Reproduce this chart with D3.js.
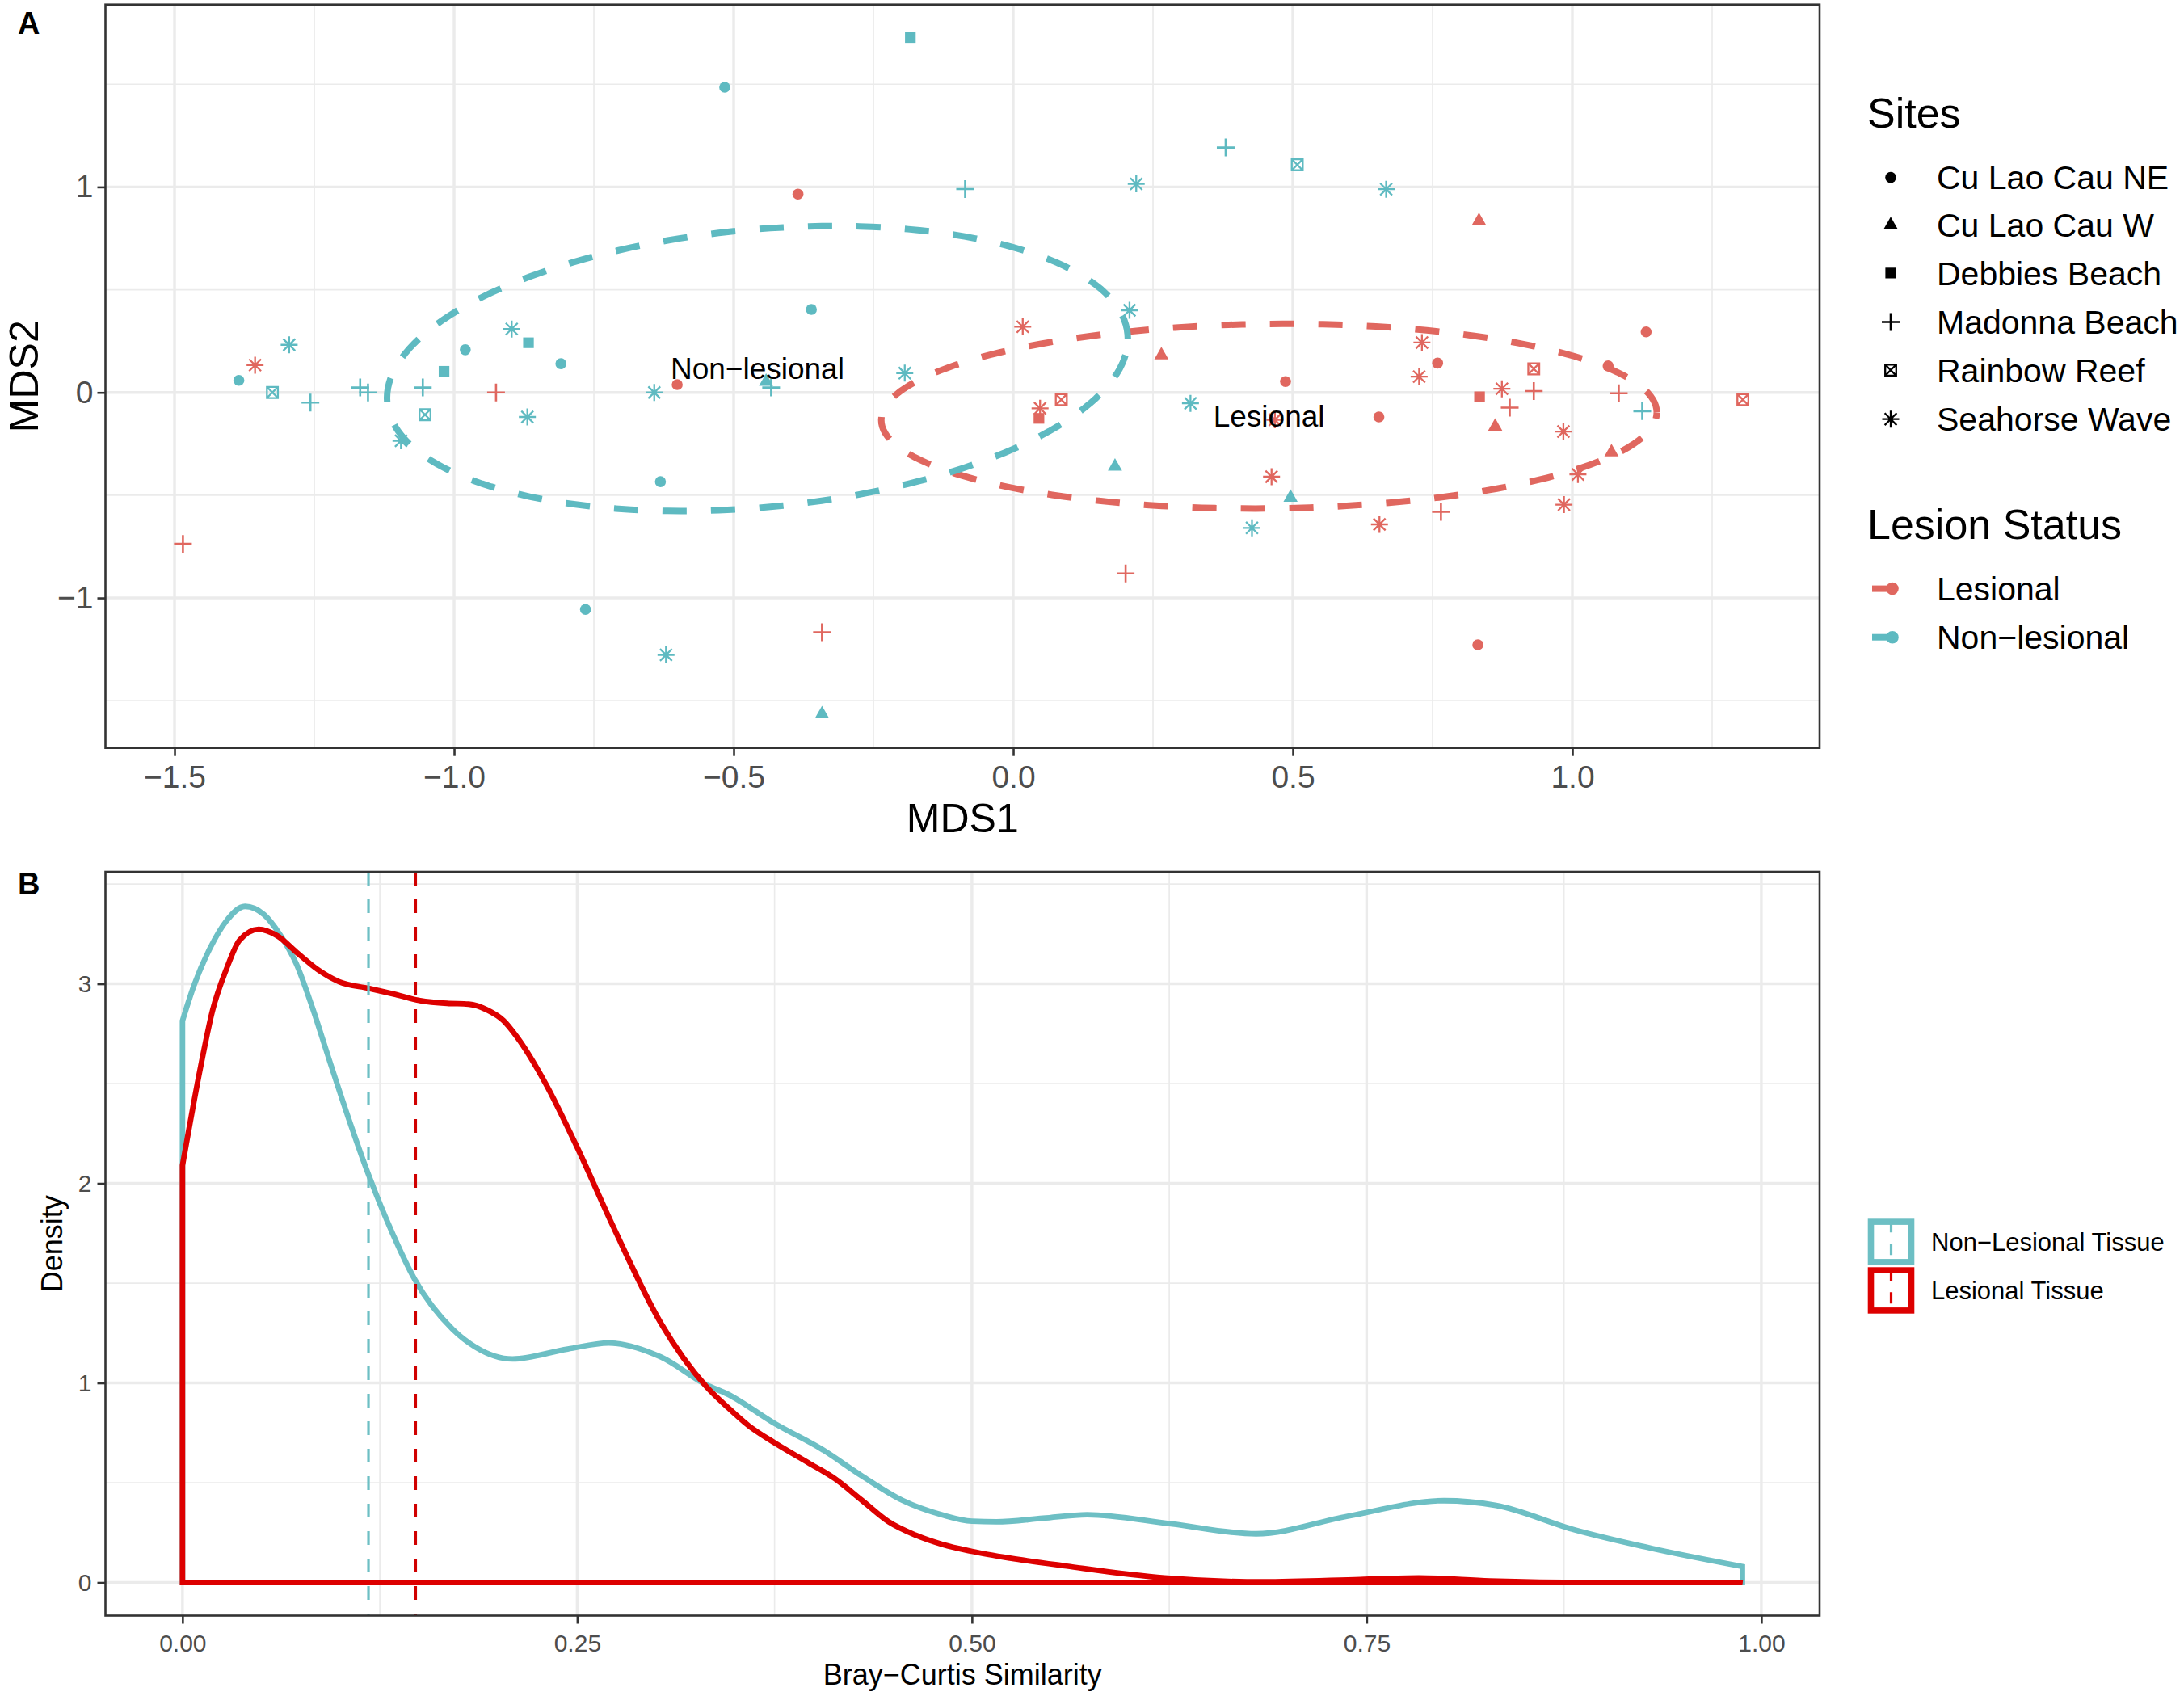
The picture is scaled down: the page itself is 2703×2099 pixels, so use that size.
<!DOCTYPE html>
<html><head><meta charset="utf-8">
<script src="https://cdn.jsdelivr.net/npm/d3@7"></script>
<style>
body{margin:0;background:#fff}
text{font-family:"Liberation Sans",Arial,Helvetica,sans-serif}
</style>
</head><body>
<svg id="c" width="2703" height="2099" xmlns="http://www.w3.org/2000/svg"></svg>
<script>
// ---------------- DATA ----------------
const siteNames = ["Cu Lao Cau NE","Cu Lao Cau W","Debbies Beach","Madonna Beach","Rainbow Reef","Seahorse Wave"];
const statusNames = ["Lesional","Non\u2212lesional"];
// site index: 0 NE, 1 W, 2 Debbies, 3 Madonna, 4 Rainbow, 5 Seahorse ; status 0 Lesional, 1 Non-lesional
const pointStatus = [
 1,1,1,1,1,1,1,1,1,1,1,1,1,1,1,1,1,1,1,1,1,1,1,1,1,1,1,1,1,1,1,1,1,1,1,1,1,
 0,0,0,0,0,0,0,0,0,0,0,0,0,0,0,0,0,0,0,0,0,0,0,0,0,0,0,0,0,0,0,0,0,0,0,0,0];
const pointSite = [
 2,0,3,0,5,0,4,3,3,3,5,2,0,0,2,3,4,5,5,5,1,3,5,0,0,5,1,5,3,4,5,5,3,5,1,1,5,
 0,5,3,0,3,3,1,5,1,5,0,0,0,5,4,0,2,5,3,3,3,4,1,5,4,5,2,5,0,5,5,3,5,5,1,3,0];
const pointMDS1 = [
 -0.184,-0.516,-0.086,-0.361,-1.295,-1.385,-1.325,-1.257,-1.168,-1.154,-0.897,-0.867,-0.980,-0.809,-1.018,-1.056,-1.052,-0.869,-1.095,-0.642,-0.442,-0.433,-0.194,-0.631,-0.765,-0.621,-0.342,0.220,0.380,0.508,0.667,0.208,1.125,0.317,0.182,0.496,0.427,
 -0.385,-1.356,-0.925,-0.601,-1.485,-0.342,0.833,0.017,0.265,0.731,1.132,0.759,0.487,0.726,0.931,1.064,0.834,0.874,0.931,1.083,0.888,1.305,0.862,0.984,0.086,0.048,0.046,0.468,0.654,0.462,0.655,0.765,0.985,1.010,1.070,0.201,0.831];
const pointMDS2 = [
 1.727,1.485,0.990,0.404,0.232,0.059,0.000,-0.049,0.024,0.000,0.309,0.242,0.208,0.140,0.103,0.024,-0.108,-0.119,-0.235,0.000,0.056,0.024,0.094,-0.434,-1.056,-1.277,-1.562,1.015,1.192,1.108,0.989,0.400,-0.091,-0.053,-0.357,-0.508,-0.659,
 0.965,0.133,0.000,0.038,-0.737,-1.167,0.838,0.320,0.185,0.243,0.295,0.143,0.053,0.077,0.115,0.129,-0.021,0.018,0.007,-0.004,-0.074,-0.035,-0.162,-0.190,-0.035,-0.077,-0.126,-0.133,-0.119,-0.410,-0.642,-0.581,-0.546,-0.399,-0.287,-0.881,-1.228];

// 95% ellipses (centre and Cholesky factor of the scaled covariance), per status
const ellipseCX = [0.4575, -0.4575];
const ellipseCY = [-0.1155, 0.1165];
const ellipseL11 = [0.6935, 0.6625];
const ellipseL21 = [0.0187, 0.1434];
const ellipseL22 = [0.4491, 0.6785];

const xTicksA = [-1.5,-1.0,-0.5,0.0,0.5,1.0];
const yTicksA = [-1,0,1];

// Panel B density curves
const densNonX = [0,0.0072,0.0175,0.0277,0.0396,0.0516,0.0618,0.0721,0.0823,0.0925,0.105,0.118,0.133,0.147,0.171,0.1855,0.209,0.244,0.270,0.303,0.332,0.345,0.375,0.4047,0.4303,0.4559,0.4815,0.5,0.5156,0.545,0.573,0.626,0.680,0.738,0.799,0.832,0.882,0.931,0.988];
const densNonY = [2.815,2.99,3.179,3.314,3.388,3.347,3.246,3.10,2.88,2.63,2.33,2.04,1.75,1.52,1.27,1.18,1.12,1.17,1.20,1.13,0.99,0.945,0.797,0.669,0.534,0.412,0.338,0.307,0.304,0.322,0.34,0.294,0.244,0.332,0.41,0.386,0.263,0.17,0.08];
const densLesX = [0,0.0115,0.0191,0.0277,0.0362,0.0482,0.0601,0.0721,0.0857,0.0993,0.1181,0.1335,0.1505,0.1676,0.1812,0.1932,0.2034,0.2119,0.230,0.250,0.273,0.303,0.332,0.345,0.3587,0.375,0.3962,0.4132,0.4303,0.4473,0.4644,0.4815,0.5,0.5241,0.560,0.622,0.684,0.746,0.783,0.828,0.89,0.988];
const densLesY = [2.09,2.585,2.868,3.071,3.219,3.273,3.240,3.159,3.071,3.010,2.977,2.949,2.916,2.902,2.898,2.868,2.815,2.733,2.50,2.18,1.78,1.30,0.98,0.88,0.785,0.70,0.601,0.520,0.412,0.304,0.237,0.190,0.156,0.122,0.082,0.023,0.003,0.015,0.023,0.008,0.0,0.0];
const meanNon = 0.1178, meanLes = 0.1477;
const tissueNames = ["Non\u2212Lesional Tissue","Lesional Tissue"];
const xTicksB = [0,0.25,0.5,0.75,1.0];
const yTicksB = [0,1,2,3];

// ---------------- STYLE ----------------
const RED = "#E0675F", TEAL = "#5EBAC1";
const DRED = "#DD0000", DTEAL = "#6DBFC4";
const GRID = "#EBEBEB";
const svg = d3.select("#c");
svg.append("rect").attr("width",2703).attr("height",2099).attr("fill","#fff");

// ---------------- PANEL A ----------------
const A = {l:130.5, r:2252, t:5.7, b:925.7};
const xA = d3.scaleLinear().domain([-1.6236,1.4422]).range([A.l,A.r]);
const yA = d3.scaleLinear().domain([-1.730,1.8875]).range([A.b,A.t]);
const gA = svg.append("g");
gA.append("rect").attr("x",A.l).attr("y",A.t).attr("width",A.r-A.l).attr("height",A.b-A.t).attr("fill","#fff");
[-1.25,-0.75,-0.25,0.25,0.75,1.25].forEach(v=>gA.append("line").attr("x1",xA(v)).attr("x2",xA(v)).attr("y1",A.t).attr("y2",A.b).attr("stroke",GRID).attr("stroke-width",1.7));
[-1.5,-0.5,0.5,1.5].forEach(v=>gA.append("line").attr("y1",yA(v)).attr("y2",yA(v)).attr("x1",A.l).attr("x2",A.r).attr("stroke",GRID).attr("stroke-width",1.7));
xTicksA.forEach(v=>gA.append("line").attr("x1",xA(v)).attr("x2",xA(v)).attr("y1",A.t).attr("y2",A.b).attr("stroke",GRID).attr("stroke-width",3.4));
yTicksA.forEach(v=>gA.append("line").attr("y1",yA(v)).attr("y2",yA(v)).attr("x1",A.l).attr("x2",A.r).attr("stroke",GRID).attr("stroke-width",3.4));

function drawShape(g, site, color, x, y, scale){
  const s = scale||1;
  const sw = 2.6;
  const t = g.append("g").attr("transform",`translate(${x},${y})`);
  if(site===0){ t.append("circle").attr("r",6.8*s).attr("fill",color); }
  else if(site===1){ t.append("path").attr("d",`M0,${-9.5*s}L${8.8*s},${6*s}L${-8.8*s},${6*s}Z`).attr("fill",color); }
  else if(site===2){ t.append("rect").attr("x",-6.6*s).attr("y",-6.6*s).attr("width",13.2*s).attr("height",13.2*s).attr("fill",color); }
  else if(site===3){ t.append("path").attr("d",`M${-11*s},0H${11*s}M0,${-11*s}V${11*s}`).attr("stroke",color).attr("stroke-width",sw).attr("fill","none"); }
  else if(site===4){ const h=6.8*s; t.append("path").attr("d",`M${-h},${-h}H${h}V${h}H${-h}ZM${-h},${-h}L${h},${h}M${h},${-h}L${-h},${h}`).attr("stroke",color).attr("stroke-width",2.3).attr("fill","none"); }
  else if(site===5){ const a=10.5*s, d=7.4*s; t.append("path").attr("d",`M${-a},0H${a}M0,${-a}V${a}M${-d},${-d}L${d},${d}M${d},${-d}L${-d},${d}`).attr("stroke",color).attr("stroke-width",2.3).attr("fill","none"); }
}
const colA = [RED, TEAL];
pointMDS1.forEach((v,i)=>drawShape(gA, pointSite[i], colA[pointStatus[i]], xA(v), yA(pointMDS2[i])));

const tAngles = d3.range(0,361,2).map(d=>d*Math.PI/180);
const ellLine = d3.line().x(d=>xA(d[0])).y(d=>yA(d[1]));
[0,1].forEach(k=>{
  const pts = tAngles.map(t=>[ellipseCX[k]+ellipseL11[k]*Math.cos(t), ellipseCY[k]+ellipseL21[k]*Math.cos(t)+ellipseL22[k]*Math.sin(t)]);
  gA.append("path").attr("d",ellLine(pts)).attr("fill","none").attr("stroke",colA[k]).attr("stroke-width",8).attr("stroke-dasharray","30,30");
});
["Lesional","Non\u2212lesional"].forEach((lab,k)=>{
  gA.append("text").attr("x",xA(ellipseCX[k])).attr("y",yA(ellipseCY[k])).attr("dy","0.36em").attr("text-anchor","middle").attr("font-size",37).attr("fill","#000").text(lab);
});
gA.append("rect").attr("x",A.l).attr("y",A.t).attr("width",A.r-A.l).attr("height",A.b-A.t).attr("fill","none").attr("stroke","#333").attr("stroke-width",2.6);

const axA_x = svg.append("g").attr("transform",`translate(0,${A.b})`).call(d3.axisBottom(xA).tickValues(xTicksA).tickFormat(d3.format(".1f")).tickSize(10).tickPadding(12));
const axA_y = svg.append("g").attr("transform",`translate(${A.l},0)`).call(d3.axisLeft(yA).tickValues(yTicksA).tickFormat(d3.format("d")).tickSize(10).tickPadding(5));
[axA_x,axA_y].forEach(ax=>{ax.select(".domain").remove(); ax.selectAll(".tick line").attr("stroke","#333").attr("stroke-width",2.6); ax.selectAll(".tick text").attr("fill","#4D4D4D").attr("font-size",39).attr("font-family","Liberation Sans, Arial, sans-serif");});
svg.append("text").attr("x",(A.l+A.r)/2).attr("y",1030).attr("text-anchor","middle").attr("font-size",50).text("MDS1");
svg.append("text").attr("transform",`translate(29,${(A.t+A.b)/2}) rotate(-90)`).attr("dy","0.36em").attr("text-anchor","middle").attr("font-size",50).text("MDS2");
svg.append("text").attr("x",22).attr("y",42).attr("font-size",38).attr("font-weight","bold").text("A");

const LG = svg.append("g");
LG.append("text").attr("x",2311).attr("y",157.6).attr("font-size",52).text("Sites");
const siteY = [219.6,277.8,337.9,398.5,458.1,518.7];
siteNames.forEach((n,i)=>{
  drawShape(LG,i,"#000",2340,siteY[i]);
  LG.append("text").attr("x",2397).attr("y",siteY[i]).attr("dy","0.36em").attr("font-size",41).text(n);
});
LG.append("text").attr("x",2311).attr("y",666.5).attr("font-size",52).text("Lesion Status");
const statY = [728.6,788.7];
statusNames.forEach((n,i)=>{
  LG.append("line").attr("x1",2317).attr("x2",2342).attr("y1",statY[i]).attr("y2",statY[i]).attr("stroke",colA[i]).attr("stroke-width",8);
  LG.append("circle").attr("cx",2342).attr("cy",statY[i]).attr("r",7.8).attr("fill",colA[i]);
  LG.append("text").attr("x",2397).attr("y",statY[i]).attr("dy","0.36em").attr("font-size",41).text(n);
});

// ---------------- PANEL B ----------------
const B = {l:130.5, r:2252, t:1079, b:1999.5};
const xB = d3.scaleLinear().domain([-0.0488,1.0369]).range([B.l,B.r]);
const yB = d3.scaleLinear().domain([-0.166,3.561]).range([B.b,B.t]);
const gB = svg.append("g");
[0.125,0.375,0.625,0.875].forEach(v=>gB.append("line").attr("x1",xB(v)).attr("x2",xB(v)).attr("y1",B.t).attr("y2",B.b).attr("stroke",GRID).attr("stroke-width",1.7));
[0.5,1.5,2.5,3.5].forEach(v=>gB.append("line").attr("y1",yB(v)).attr("y2",yB(v)).attr("x1",B.l).attr("x2",B.r).attr("stroke",GRID).attr("stroke-width",1.7));
xTicksB.forEach(v=>gB.append("line").attr("x1",xB(v)).attr("x2",xB(v)).attr("y1",B.t).attr("y2",B.b).attr("stroke",GRID).attr("stroke-width",3.4));
yTicksB.forEach(v=>gB.append("line").attr("y1",yB(v)).attr("y2",yB(v)).attr("x1",B.l).attr("x2",B.r).attr("stroke",GRID).attr("stroke-width",3.4));

const dLine = d3.line().x(d=>xB(d[0])).y(d=>yB(d[1])).curve(d3.curveMonotoneX);
function densPath(xs, ys){
  const pts = xs.map((x,i)=>[x,ys[i]]);
  const s = dLine(pts);
  const xe = xs[xs.length-1];
  return `M${xB(0)},${yB(0)}L` + s.slice(1) + `L${xB(xe)},${yB(0)}Z`;
}
gB.append("path").attr("d",densPath(densNonX,densNonY)).attr("fill","none").attr("stroke",DTEAL).attr("stroke-width",6.8);
gB.append("path").attr("d",densPath(densLesX,densLesY)).attr("fill","none").attr("stroke",DRED).attr("stroke-width",6.8);
gB.append("line").attr("x1",xB(meanNon)).attr("x2",xB(meanNon)).attr("y1",B.t).attr("y2",B.b).attr("stroke",DTEAL).attr("stroke-width",3.2).attr("stroke-dasharray","17,17");
gB.append("line").attr("x1",xB(meanLes)).attr("x2",xB(meanLes)).attr("y1",B.t).attr("y2",B.b).attr("stroke","#D00000").attr("stroke-width",3.2).attr("stroke-dasharray","17,17");
gB.append("rect").attr("x",B.l).attr("y",B.t).attr("width",B.r-B.l).attr("height",B.b-B.t).attr("fill","none").attr("stroke","#333").attr("stroke-width",2.6);

const axB_x = svg.append("g").attr("transform",`translate(0,${B.b})`).call(d3.axisBottom(xB).tickValues(xTicksB).tickFormat(d3.format(".2f")).tickSize(10).tickPadding(13));
const axB_y = svg.append("g").attr("transform",`translate(${B.l},0)`).call(d3.axisLeft(yB).tickValues(yTicksB).tickFormat(d3.format("d")).tickSize(10).tickPadding(7));
[axB_x,axB_y].forEach(ax=>{ax.select(".domain").remove(); ax.selectAll(".tick line").attr("stroke","#333").attr("stroke-width",2.6); ax.selectAll(".tick text").attr("fill","#4D4D4D").attr("font-size",30).attr("font-family","Liberation Sans, Arial, sans-serif");});
svg.append("text").attr("x",(B.l+B.r)/2).attr("y",2085).attr("text-anchor","middle").attr("font-size",36).text("Bray\u2212Curtis Similarity");
svg.append("text").attr("transform",`translate(64,${(B.t+B.b)/2}) rotate(-90)`).attr("dy","0.36em").attr("text-anchor","middle").attr("font-size",36).text("Density");
svg.append("text").attr("x",22).attr("y",1107).attr("font-size",38).attr("font-weight","bold").text("B");

const LB = svg.append("g");
const keyTop = [1508.3,1568.3];
const keyCol = [DTEAL, DRED];
tissueNames.forEach((n,i)=>{
  LB.append("rect").attr("x",2311.7+3.8).attr("y",keyTop[i]+3.8).attr("width",57.6-7.6).attr("height",57.4-7.6).attr("fill","#fff").attr("stroke",keyCol[i]).attr("stroke-width",7.6);
  LB.append("line").attr("x1",2340.5).attr("x2",2340.5).attr("y1",keyTop[i]).attr("y2",keyTop[i]+57.4).attr("stroke",keyCol[i]).attr("stroke-width",3.2).attr("stroke-dasharray","14,14").attr("stroke-dashoffset",-3);
  LB.append("text").attr("x",2390).attr("y",keyTop[i]+28.7).attr("dy","0.36em").attr("font-size",31).text(n);
});
</script>
</body></html>
